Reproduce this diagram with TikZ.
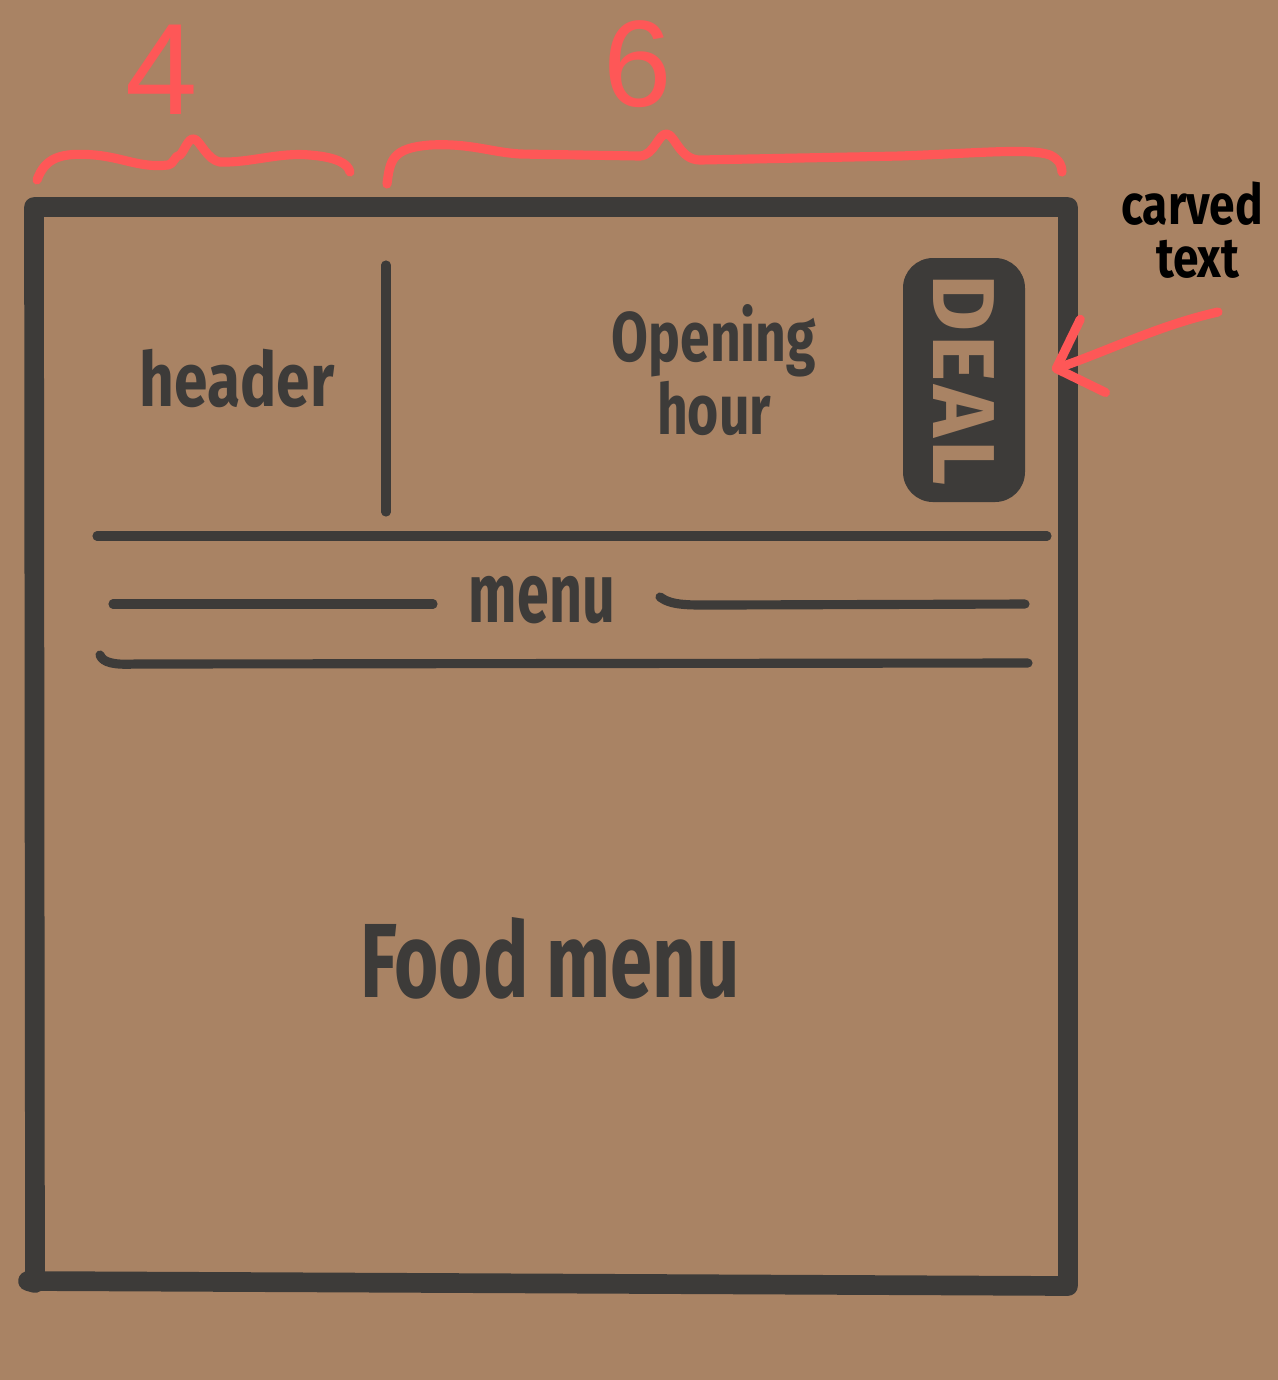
\documentclass[tikz,border=0pt]{standalone}
\usepackage{fontspec}
\setmainfont{Fira Sans}
\newfontfamily\numfont{Liberation Sans}
\usetikzlibrary{arrows.meta,positioning}
\definecolor{sfondo}{HTML}{A98364}
\definecolor{inchiostro}{HTML}{3D3B39}
\definecolor{rosso}{HTML}{FE5757}
\tikzset{
  tratto/.style={line width=2.6pt, inchiostro, line cap=round, line join=round},
  bordo/.style={line width=5.6pt, inchiostro, line cap=round, line join=round},
  graffa/.style={line width=2.6pt, rosso, line cap=round, line join=round},
  scritta/.style={text=inchiostro, inner sep=0pt},
  numero/.style={text=rosso, inner sep=0pt},
}
\begin{document}
\begin{tikzpicture}[x=0.1mm,y=-0.1mm]
        %sfondo
        \fill[sfondo] (0,0) rectangle (1278,1380);
        \useasboundingbox (0,0) rectangle (1278,1380);
        %cornice
        \draw[bordo] (35,1283) -- (34,207) -- (1068,207) -- (1068,1286) -- (28,1281) -- cycle;
        %divisori
        \draw[tratto] (386,265) -- (386,512);
        \draw[tratto] (97,536) -- (1047,536);
        \draw[tratto] (113,604) -- (433,604);
        \draw[tratto] (660,597) .. controls (672,606) and (690,605) .. (720,605) -- (1025,604);
        \draw[tratto] (100,655) .. controls (103,663) and (115,665) .. (135,664) -- (1028,663);
        %testi
        \node[scritta, xscale=0.8, font=\bfseries\fontsize{21.5}{21.5}\selectfont] (header) at (237,378) {header};
        \node[scritta, align=center, xscale=0.76, font=\bfseries\fontsize{20}{17}\selectfont] (orario) at (714,370) {Opening\\hour};
        \node[scritta, xscale=0.68, font=\bfseries\fontsize{24}{24}\selectfont] (menu) at (542,600) {menu};
        \node[scritta, xscale=0.72, font=\bfseries\fontsize{30}{30}\selectfont] (cibo) at (550,958) {Food menu};
        %etichetta DEAL
        \node[fill=inchiostro, text=sfondo, rounded corners=3mm, rotate=-90, inner sep=0pt,
              minimum width=24.4mm, minimum height=12.2mm,
              font=\bfseries\fontsize{25}{25}\selectfont] (deal) at (964,380) {D\kern1ptE\kern1ptA\kern1ptL};
        %nota e freccia
        \node[text=black, align=center, inner sep=0pt, xscale=0.82,
              font=\bfseries\fontsize{16}{15}\selectfont] (nota) at (1192,230) {carved\\\hspace*{4pt}text};
        \coordinate (coda) at (1218,312);
        \coordinate (punta) at (1052,370);
        \draw[graffa, -{Straight Barb[round, length=11pt, width=22pt]}]
            (coda) .. controls (1160,325) and (1110,350) .. (punta);
        %graffe e numeri
        \draw[graffa] (37,180) .. controls (45,158) and (60,152) .. (95,155)
                      .. controls (125,158) and (140,168) .. (168,165)
                      .. controls (175,163) and (174,156) .. (180,155)
                      .. controls (185,150) and (188,138) .. (194,139)
                      .. controls (200,140) and (207,160) .. (220,162)
                      .. controls (250,163) and (280,152) .. (310,155)
                      .. controls (335,157) and (348,163) .. (350,172);
        \draw[graffa] (387,184) .. controls (390,160) and (392,148) .. (430,145)
                      .. controls (470,143) and (490,152) .. (520,154) -- (640,156)
                      .. controls (655,155) and (658,133) .. (667,134)
                      .. controls (675,135) and (680,160) .. (700,160) -- (900,156)
                      .. controls (980,153) and (1030,148) .. (1050,155)
                      .. controls (1060,160) and (1062,166) .. (1062,172);
        \node[numero, font=\numfont\fontsize{37}{37}\selectfont] (quattro) at (162,70) {4};
        \node[numero, font=\numfont\fontsize{35}{35}\selectfont] (sei) at (638,64) {6};
\end{tikzpicture}
\end{document}
